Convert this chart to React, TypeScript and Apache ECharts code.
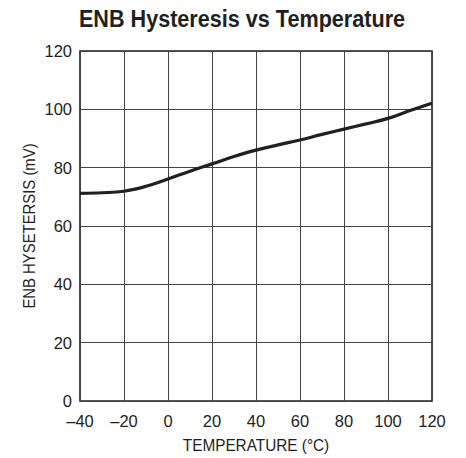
import React, { useEffect, useRef } from "react";
import * as echarts from "echarts";

const temperatures = [-40, -30, -20, -10, 0, 10, 20, 30, 40, 50, 60, 70, 80, 90, 100, 110, 120];
const hysteresis = [71.2, 71.4, 71.9, 73.6, 76.1, 78.8, 81.3, 83.8, 86.0, 87.8, 89.5, 91.4, 93.2, 95.0, 96.9, 99.6, 102.1];
const xTicks = { min: -40, max: 120, interval: 20 };
const yTicks = { min: 0, max: 120, interval: 20 };
const titleText = "ENB Hysteresis vs Temperature";
const xName = "TEMPERATURE (°C)";
const yName = "ENB HYSETERSIS (mV)";

const FONT = "'Liberation Sans', Arial, sans-serif";
const INK = "#231f20";

export default function App() {
  const ref = useRef<HTMLDivElement>(null);
  useEffect(() => {
    if (!ref.current) return;
    const chart = echarts.init(ref.current, null, { renderer: "svg" });
    chart.setOption({
      animation: false,
      backgroundColor: "#ffffff",
      graphic: [
        {
          type: "text",
          x: 242,
          y: 19,
          scaleX: 0.9,
          style: {
            text: titleText,
            fontFamily: FONT,
            fontWeight: "bold",
            fontSize: 24,
            fill: INK,
            align: "center",
            verticalAlign: "middle",
          },
        },
        {
          type: "text",
          x: 256,
          y: 445,
          scaleX: 0.93,
          style: {
            text: xName,
            fontFamily: FONT,
            fontSize: 16.5,
            fill: INK,
            align: "center",
            verticalAlign: "middle",
          },
        },
        {
          type: "text",
          x: 29,
          y: 226,
          rotation: Math.PI / 2,
          scaleX: 0.93,
          style: {
            text: yName,
            fontFamily: FONT,
            fontSize: 16,
            fill: INK,
            align: "center",
            verticalAlign: "middle",
          },
        },
      ],
      grid: { left: 80, right: 34, top: 51, bottom: 57, show: true, borderColor: INK, borderWidth: 1.6 },
      xAxis: {
        type: "value",
        min: xTicks.min,
        max: xTicks.max,
        interval: xTicks.interval,
        axisLine: { show: false },
        axisTick: { show: false },
        axisLabel: {
          fontFamily: FONT,
          fontSize: 16.5,
          color: INK,
          margin: 11,
          formatter: (v: number) => String(v).replace("-", "\u2013"),
        },
        splitLine: { show: true, lineStyle: { color: "#444444", width: 1 } },
      },
      yAxis: {
        type: "value",
        min: yTicks.min,
        max: yTicks.max,
        interval: yTicks.interval,
        axisLine: { show: false },
        axisTick: { show: false },
        axisLabel: { fontFamily: FONT, fontSize: 16.5, color: INK, margin: 8, padding: [4, 0, 0, 0] },
        splitLine: { show: true, lineStyle: { color: "#444444", width: 1 } },
      },
      series: [
        {
          type: "line",
          data: temperatures.map((t, i) => [t, hysteresis[i]]),
          smooth: 0.4,
          showSymbol: false,
          lineStyle: { color: INK, width: 3.2 },
        },
      ],
    });
    return () => chart.dispose();
  }, []);
  return <div ref={ref} style={{ width: 466, height: 458, position: "absolute", left: 0, top: 0 }} />;
}
